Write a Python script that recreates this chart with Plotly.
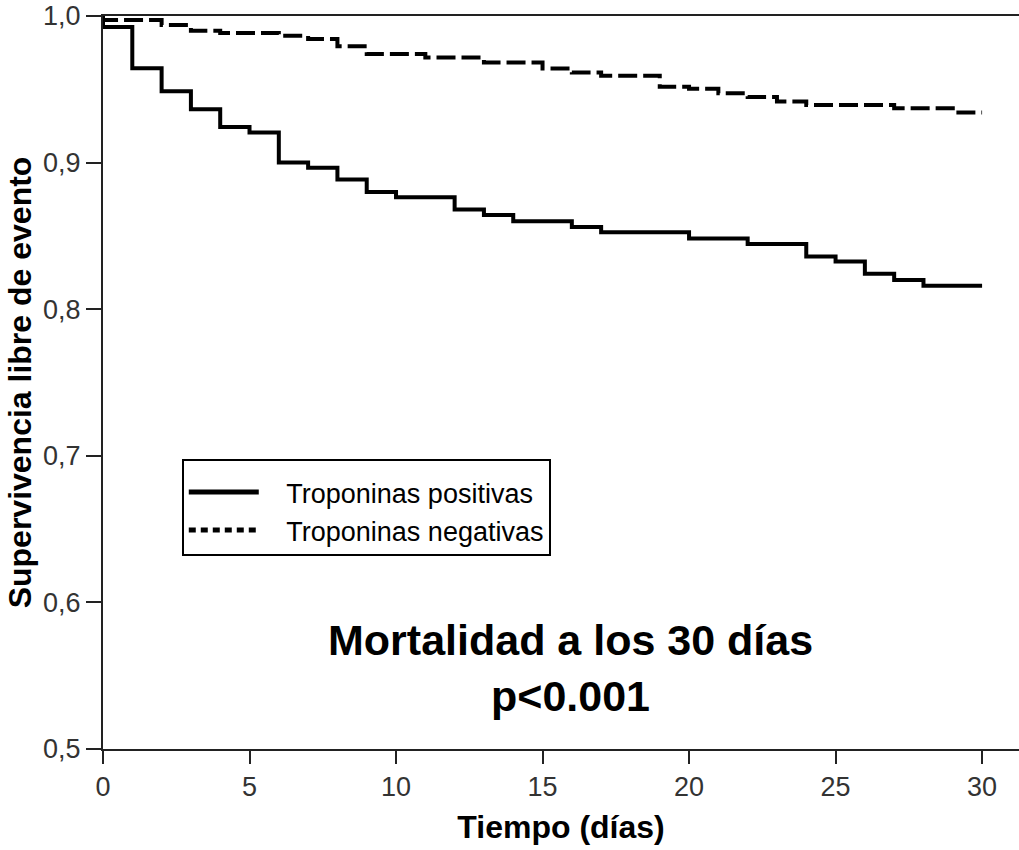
import plotly.graph_objects as go

# Kaplan-Meier step data (time in days, survival)
pos_times = [0, 0, 1, 2, 3, 4, 5, 6, 7, 8, 9, 10, 12, 13, 14, 16, 17, 20, 22, 24, 25, 26, 27, 28, 30]
pos_surv = [1.0, 0.9925, 0.9644, 0.9487, 0.9364, 0.9243, 0.9205, 0.900, 0.8965, 0.8885, 0.880,
            0.8764, 0.868, 0.8643, 0.860, 0.856, 0.8525, 0.8482, 0.8445, 0.836, 0.8326, 0.8242,
            0.820, 0.816, 0.816]

neg_times = [0, 0, 2, 3, 4, 6, 7, 8, 9, 11, 13, 15, 16, 17, 19, 20, 21, 22, 23, 24, 27, 29, 30]
neg_surv = [1.0, 0.9973, 0.9938, 0.990, 0.9884, 0.9865, 0.9843, 0.9793, 0.974, 0.9717, 0.9683,
            0.9642, 0.9615, 0.9592, 0.9517, 0.9503, 0.9473, 0.9448, 0.9416, 0.9393, 0.937,
            0.9341, 0.9341]

series_names = ["Troponinas positivas", "Troponinas negativas"]
x_ticks = [0, 5, 10, 15, 20, 25, 30]
y_ticks = [0.5, 0.6, 0.7, 0.8, 0.9, 1.0]

FONT = "Arial, 'Liberation Sans', sans-serif"
PAD = "\u00a0\u00a0\u00a0"

fig = go.Figure()
fig.add_trace(go.Scatter(x=pos_times, y=pos_surv, mode="lines", line_shape="hv",
                         line=dict(color="black", width=4), showlegend=False,
                         name=series_names[0]))
fig.add_trace(go.Scatter(x=neg_times, y=neg_surv, mode="lines", line_shape="hv",
                         line=dict(color="black", width=4, dash="19px,6px"), showlegend=False,
                         name=series_names[1]))
# legend entries (styled as in the original legend)
fig.add_trace(go.Scatter(x=[None], y=[None], mode="lines", name=PAD + series_names[0],
                         line=dict(color="black", width=5)))
fig.add_trace(go.Scatter(x=[None], y=[None], mode="lines", name=PAD + series_names[1],
                         line=dict(color="black", width=5, dash="7px,5px")))

fig.update_layout(
    width=1019, height=850,
    margin=dict(l=103, r=0, t=16, b=101),
    paper_bgcolor="white", plot_bgcolor="white",
    separators=", ",
    font=dict(family=FONT, color="black"),
    showlegend=True,
    legend=dict(x=0.086, y=0.395, xanchor="left", yanchor="top",
                bordercolor="black", borderwidth=2, bgcolor="white",
                font=dict(size=27, family=FONT, color="black"),
                title=dict(text="\u00a0", font=dict(size=5)),
                itemwidth=70, tracegroupgap=0),
    annotations=[dict(text="<b>Mortalidad a los 30 días<br>p<0.001</b>", x=0.51, y=0.111,
                      xref="paper", yref="paper", xanchor="center", yanchor="middle",
                      showarrow=False,
                      font=dict(size=43, family=FONT, color="black"))],
)
fig.update_xaxes(range=[0, 31.26], tickvals=x_ticks, showline=True, linecolor="#222",
                 linewidth=2, mirror=True, ticks="outside", ticklen=13, tickwidth=2,
                 tickcolor="#222", showgrid=False, zeroline=False,
                 tickfont=dict(size=27, color="#333"),
                 title=dict(text="<b>Tiempo (días)</b>", font=dict(size=32), standoff=14))
fig.update_yaxes(range=[0.5, 1.0], tickvals=y_ticks, tickformat=".1f", showline=True,
                 linecolor="#222", linewidth=2, ticks="outside", ticklen=15, tickwidth=2,
                 tickcolor="#222", showgrid=False, zeroline=False,
                 tickfont=dict(size=27, color="#333"),
                 title=dict(text="<b>Supervivencia libre de evento</b>", font=dict(size=32),
                            standoff=2))

fig.write_html("out.html")
